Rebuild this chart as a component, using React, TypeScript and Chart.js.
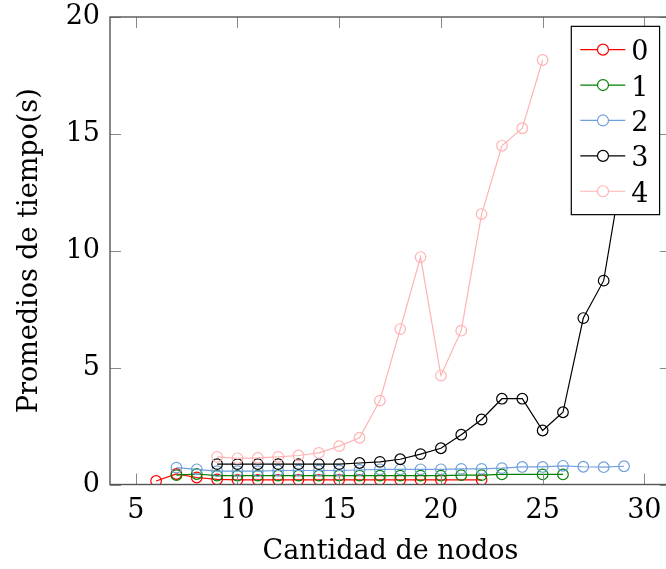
import React, { useEffect, useRef } from "react";
import { Chart, registerables } from "chart.js";

Chart.register(...registerables);

const seriesLabels = ["0", "1", "2", "3", "4"];
const seriesColors = ["#ff0000", "#008000", "#6f9fdc", "#000000", "#ffb3b3"];

const x0 = [6, 7, 8, 9, 10, 11, 12, 13, 14, 15, 16, 17, 18, 19, 20, 22];
const y0 = [0.15, 0.45, 0.3, 0.22, 0.2, 0.2, 0.2, 0.2, 0.2, 0.2, 0.2, 0.2, 0.2, 0.2, 0.2, 0.2];

const x1 = [7, 8, 9, 10, 11, 12, 13, 14, 15, 16, 17, 18, 19, 20, 21, 22, 23, 25, 26];
const y1 = [0.4, 0.45, 0.38, 0.38, 0.38, 0.38, 0.38, 0.38, 0.38, 0.38, 0.38, 0.38, 0.38, 0.38, 0.4, 0.4, 0.43, 0.43, 0.43];

const x2 = [7, 8, 9, 10, 11, 12, 13, 14, 15, 16, 17, 18, 19, 20, 21, 22, 23, 24, 25, 26, 27, 28, 29];
const y2 = [0.72, 0.65, 0.57, 0.57, 0.57, 0.6, 0.6, 0.6, 0.6, 0.62, 0.65, 0.65, 0.65, 0.65, 0.67, 0.67, 0.7, 0.75, 0.75, 0.8, 0.76, 0.74, 0.78];

const x3 = [9, 10, 11, 12, 13, 14, 15, 16, 17, 18, 19, 20, 21, 22, 23, 24, 25, 26, 27, 28, 29];
const y3 = [0.87, 0.87, 0.87, 0.87, 0.87, 0.87, 0.87, 0.92, 0.97, 1.08, 1.3, 1.55, 2.13, 2.78, 3.67, 3.67, 2.31, 3.09, 7.12, 8.72, 13.9];

const x4 = [9, 10, 11, 12, 13, 14, 15, 16, 17, 18, 19, 20, 21, 22, 23, 24, 25];
const y4 = [1.18, 1.12, 1.14, 1.18, 1.24, 1.35, 1.64, 2.0, 3.59, 6.65, 9.73, 4.66, 6.58, 11.57, 14.49, 15.24, 18.16];

const seriesX = [x0, x1, x2, x3, x4];
const seriesY = [y0, y1, y2, y3, y4];

const xTicks = [5, 10, 15, 20, 25, 30];
const yTicks = [0, 5, 10, 15, 20];
const xMin = 3.735;
const xMax = 31.3;
const yMin = 0;
const yMax = 20;

const xTitle = "Cantidad de nodos";
const yTitle = "Promedios de tiempo(s)";

const FONT = "'DejaVu Serif', serif";
const FS = 27;

const W = 680;
const H = 569;

const framePlugin = {
  id: "frameTicks",
  afterDatasetsDraw(chart: any) {
    const { ctx, chartArea } = chart;
    const xs = chart.scales.x;
    const ys = chart.scales.y;
    const tl = 11;
    ctx.save();
    ctx.strokeStyle = "#8a8a8a";
    ctx.lineWidth = 1;
    for (const v of xTicks) {
      const px = Math.round(xs.getPixelForValue(v)) + 0.5;
      ctx.beginPath();
      ctx.moveTo(px, chartArea.bottom);
      ctx.lineTo(px, chartArea.bottom - tl);
      ctx.moveTo(px, chartArea.top);
      ctx.lineTo(px, chartArea.top + tl);
      ctx.stroke();
    }
    for (const v of yTicks) {
      const py = Math.round(ys.getPixelForValue(v)) + 0.5;
      ctx.beginPath();
      ctx.moveTo(chartArea.left, py);
      ctx.lineTo(chartArea.left + tl, py);
      ctx.moveTo(chartArea.right, py);
      ctx.lineTo(chartArea.right - tl, py);
      ctx.stroke();
    }
    ctx.strokeStyle = "#555555";
    ctx.lineWidth = 1.4;
    ctx.strokeRect(chartArea.left, chartArea.top, chartArea.right - chartArea.left, chartArea.bottom - chartArea.top);
    ctx.restore();
  },
  afterDraw(chart: any) {
    const { ctx, chartArea } = chart;
    const w = chartArea.right - chartArea.left;
    const h = chartArea.bottom - chartArea.top;
    const right = chartArea.right - 0.02 * w;
    const top = chartArea.top + 0.02 * h;
    const bw = 88.3;
    const bh = 188.3;
    const left = right - bw;
    ctx.save();
    ctx.fillStyle = "#ffffff";
    ctx.fillRect(left, top, bw, bh);
    ctx.strokeStyle = "#000000";
    ctx.lineWidth = 1.2;
    ctx.strokeRect(left, top, bw, bh);
    chart.data.datasets.forEach((ds: any, i: number) => {
      const cy = top + 23.3 + i * 35.4;
      ctx.strokeStyle = ds.borderColor;
      ctx.lineWidth = 1.2;
      ctx.beginPath();
      ctx.moveTo(right - 79.3, cy);
      ctx.lineTo(right - 34.3, cy);
      ctx.stroke();
      ctx.fillStyle = "#ffffff";
      ctx.beginPath();
      ctx.arc(right - 56.6, cy, 5.5, 0, Math.PI * 2);
      ctx.fill();
      ctx.stroke();
      ctx.fillStyle = "#000000";
      ctx.font = `${FS}px ${FONT}`;
      ctx.textAlign = "left";
      ctx.textBaseline = "alphabetic";
      ctx.fillText(ds.label, right - 28.3, cy + 10.5);
    });
    ctx.restore();
  },
};

export default function App() {
  const ref = useRef<HTMLCanvasElement | null>(null);

  useEffect(() => {
    if (!ref.current) return;
    const datasets = seriesLabels.map((label, i) => ({
      label,
      data: seriesX[i].map((x, j) => ({ x, y: seriesY[i][j] })),
      borderColor: seriesColors[i],
      backgroundColor: "rgba(0,0,0,0)",
      pointBorderColor: seriesColors[i],
      pointBackgroundColor: "rgba(0,0,0,0)",
      pointRadius: 5.3,
      pointBorderWidth: 1.2,
      borderWidth: 1.2,
      tension: 0,
      fill: false,
      order: seriesLabels.length - i,
    }));
    const chart = new Chart(ref.current, {
      type: "line",
      data: { datasets },
      options: {
        responsive: false,
        animation: false,
        devicePixelRatio: 1,
        layout: { padding: { left: 0, top: 17, right: W - 670.8, bottom: 0 } },
        plugins: { legend: { display: false }, tooltip: { enabled: false } },
        scales: {
          x: {
            type: "linear",
            min: xMin,
            max: xMax,
            grid: { display: false, drawTicks: false },
            border: { display: false },
            afterBuildTicks: (s: any) => {
              s.ticks = xTicks.map((v) => ({ value: v }));
            },
            afterFit: (s: any) => {
              s.height = H - 484.5;
              s.paddingLeft = 0;
              s.paddingRight = 0;
            },
            ticks: {
              color: "#000",
              padding: 10,
              maxRotation: 0,
              autoSkip: false,
              font: { family: FONT, size: FS },
              callback: (v: any) => String(v),
            },
            title: {
              display: true,
              text: xTitle,
              color: "#000",
              font: { family: FONT, size: FS },
              padding: { top: 0, bottom: 1 },
            },
          },
          y: {
            type: "linear",
            min: yMin,
            max: yMax,
            grid: { display: false, drawTicks: false },
            border: { display: false },
            afterBuildTicks: (s: any) => {
              s.ticks = yTicks.map((v) => ({ value: v }));
            },
            afterFit: (s: any) => {
              s.width = 110;
              s.paddingTop = 0;
              s.paddingBottom = 0;
            },
            ticks: {
              color: "#000",
              padding: 10,
              autoSkip: false,
              font: { family: FONT, size: FS },
              callback: (v: any) => String(v),
            },
            title: {
              display: true,
              text: yTitle,
              color: "#000",
              font: { family: FONT, size: FS },
              padding: { top: 13.8, bottom: 0 },
            },
          },
        },
      },
      plugins: [framePlugin],
    });
    return () => chart.destroy();
  }, []);

  return (
    <div style={{ position: "fixed", left: 0, top: 0, width: 666, height: H, overflow: "hidden", background: "#fff" }}>
      <canvas ref={ref} width={W} height={H} style={{ width: W, height: H, display: "block" }} />
    </div>
  );
}
